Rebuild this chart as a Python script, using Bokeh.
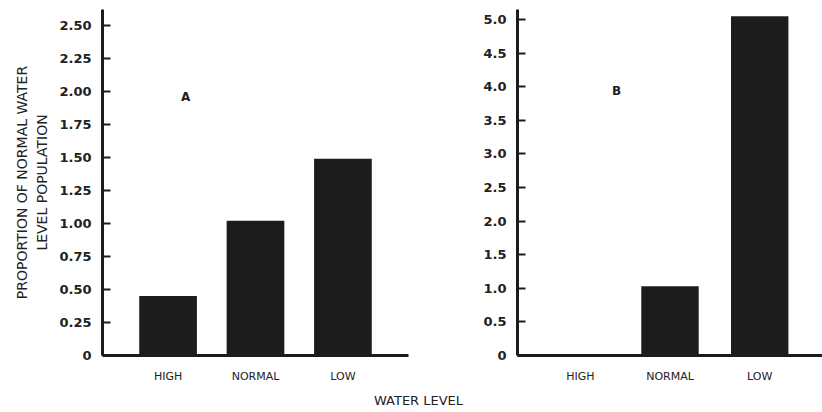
from bokeh.plotting import figure
from bokeh.models import FactorRange, Range1d, Label, FixedTicker, NumeralTickFormatter, ColumnDataSource
from bokeh.layouts import column, row
from bokeh.embed import file_html
from bokeh.resources import INLINE

categories = ["HIGH", "NORMAL", "LOW"]
values_a = [0.45, 1.02, 1.49]
values_b = [0.0, 1.03, 5.05]
ticks_a = [0, 0.25, 0.5, 0.75, 1.0, 1.25, 1.5, 1.75, 2.0, 2.25, 2.5]
ticks_b = [0, 0.5, 1.0, 1.5, 2.0, 2.5, 3.0, 3.5, 4.0, 4.5, 5.0]
y_label = "PROPORTION OF NORMAL WATER\nLEVEL POPULATION"
x_label = "WATER LEVEL"
panel_a = "A"
panel_b = "B"

INK = "#1c1c1c"
TXT = "#222222"
FONT = "DejaVu Sans"


def style(p, ticks, fmt):
    p.outline_line_color = None
    p.xgrid.grid_line_color = None
    p.ygrid.grid_line_color = None
    p.background_fill_color = "white"
    p.border_fill_color = "white"
    for ax in (p.xaxis[0], p.yaxis[0]):
        ax.axis_line_width = 3
        ax.axis_line_color = INK
        ax.minor_tick_line_color = None
    xa = p.xaxis[0]
    xa.major_tick_line_color = None
    xa.major_tick_in = 0
    xa.major_tick_out = 0
    xa.major_label_text_font = FONT
    xa.major_label_text_font_size = "11px"
    xa.major_label_text_color = TXT
    xa.major_label_standoff = 14
    ya = p.yaxis[0]
    ya.ticker = FixedTicker(ticks=ticks)
    ya.formatter = NumeralTickFormatter(format=fmt)
    ya.major_label_overrides = {0: "0"}
    ya.major_tick_in = 8
    ya.major_tick_out = 0
    ya.major_tick_line_width = 2
    ya.major_tick_line_color = INK
    ya.major_label_text_font = FONT
    ya.major_label_text_font_style = "bold"
    ya.major_label_text_font_size = "13px"
    ya.major_label_text_color = TXT
    ya.major_label_standoff = 11


# Panel A
src_a = ColumnDataSource(dict(cat=categories, val=values_a))
pA = figure(width=420, height=392, output_backend="svg", toolbar_location=None,
            x_range=FactorRange(factors=categories, range_padding=0.25,
                                range_padding_units="absolute"),
            y_range=Range1d(0, 2.621),
            min_border_left=102, min_border_right=12, min_border_top=9,
            min_border_bottom=37)
pA.vbar(x="cat", top="val", width=0.66, source=src_a, fill_color=INK, line_color=None)
style(pA, ticks_a, "0.00")
pA.yaxis[0].axis_label = y_label
pA.yaxis[0].axis_label_text_font = FONT
pA.yaxis[0].axis_label_text_font_style = "normal"
pA.yaxis[0].axis_label_text_font_size = "14px"
pA.yaxis[0].axis_label_text_color = TXT
pA.yaxis[0].axis_label_text_line_height = 1.3
pA.yaxis[0].axis_label_standoff = 6
pA.add_layout(Label(x=0.70, y=1.955, text=panel_a, text_font=FONT, text_font_style="bold",
                    text_font_size="12px", text_color=INK, text_align="center",
                    text_baseline="middle"))

# Panel B
src_b = ColumnDataSource(dict(cat=categories, val=values_b))
pB = figure(width=402, height=392, output_backend="svg", toolbar_location=None,
            x_range=FactorRange(factors=categories, range_padding=0.2,
                                range_padding_units="absolute"),
            y_range=Range1d(0, 5.149),
            min_border_left=97, min_border_right=0, min_border_top=9,
            min_border_bottom=37)
pB.vbar(x="cat", top="val", width=0.64, source=src_b, fill_color=INK, line_color=None)
style(pB, ticks_b, "0.0")
pB.add_layout(Label(x=0.904, y=3.94, text=panel_b, text_font=FONT, text_font_style="bold",
                    text_font_size="12px", text_color=INK, text_align="center",
                    text_baseline="middle"))

# Shared x label strip
pX = figure(width=822, height=20, output_backend="svg", toolbar_location=None,
            x_range=Range1d(0, 1), y_range=Range1d(0, 1),
            min_border=0, min_border_left=0, min_border_right=0,
            min_border_top=0, min_border_bottom=0)
pX.axis.visible = False
pX.grid.visible = False
pX.outline_line_color = None
pX.add_layout(Label(x=0.5085, y=0.6, text=x_label, text_font=FONT,
                    text_font_size="13px", text_color=TXT, text_align="center",
                    text_baseline="middle"))

layout = column(row(pA, pB, spacing=0), pX, spacing=0)
open("out.html", "w").write(file_html(layout, INLINE))
